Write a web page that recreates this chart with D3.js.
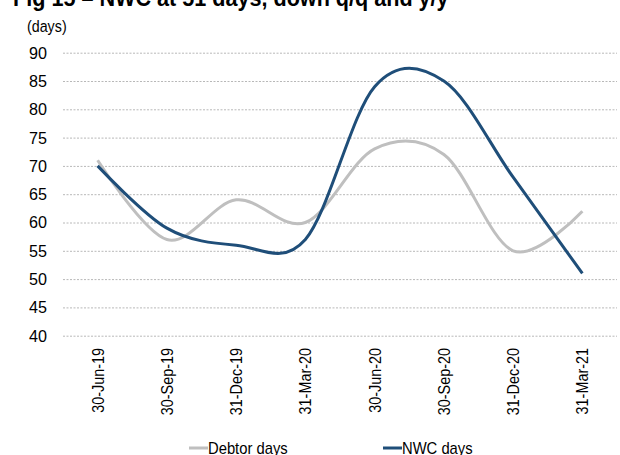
<!DOCTYPE html>
<html>
<head>
<meta charset="utf-8">
<script src="https://cdn.jsdelivr.net/npm/d3@7"></script>
<style>
  body { margin: 0; background: #fff; }
  svg { display: block; }
  text { font-family: "Liberation Sans", Arial, sans-serif; fill: #000; }
</style>
</head>
<body>
<svg id="chart" width="620" height="455"></svg>
<script>
// Quarter-end dates and the two working-capital series (in days)
const categories = ["30-Jun-19", "30-Sep-19", "31-Dec-19", "31-Mar-20", "30-Jun-20", "30-Sep-20", "31-Dec-20", "31-Mar-21"];
const debtorDays = [71, 57, 64, 60, 73, 72, 55, 62];
const nwcDays    = [70, 59, 56, 57, 84, 85, 68, 51];
const yTicks = [40, 45, 50, 55, 60, 65, 70, 75, 80, 85, 90];
const seriesNames = ["Debtor days", "NWC days"];
const seriesColors = ["#bfbfbf", "#1f4e79"];

const svg = d3.select("#chart");
const plotLeft = 63, plotRight = 617, plotTop = 52.7, plotBottom = 335.7;

const x = d3.scalePoint().domain(categories).range([plotLeft, plotRight]).padding(0.5);
const y = d3.scaleLinear().domain([40, 90]).range([plotBottom, plotTop]);

// Narrow-looking text: a regular face squeezed horizontally
function narrowText(parent, px, py, str, size, squeeze, weight) {
  return parent.append("text")
    .attr("transform", `translate(${px},${py}) scale(${squeeze},1)`)
    .attr("font-size", size)
    .attr("font-weight", weight || "normal")
    .text(str);
}

// Title (partly above the visible area) and unit label
narrowText(svg, 13, 6, "Fig 15 – NWC at 51 days, down q/q and y/y", 24, 0.9, "bold");
narrowText(svg, 27, 32, "(days)", 17, 0.84);

// Horizontal dotted gridlines with value labels
const yAxis = svg.append("g")
  .attr("transform", `translate(${plotLeft},0)`)
  .call(d3.axisLeft(y).tickValues(yTicks).tickSize(-(plotRight - plotLeft)).tickPadding(16).tickFormat(d3.format("d")));
yAxis.select(".domain").remove();
yAxis.selectAll(".tick line")
  .attr("stroke", "#b8b8b8").attr("stroke-width", 1).attr("stroke-dasharray", "2,1.5");
yAxis.selectAll(".tick text")
  .attr("font-size", 17).attr("fill", "#000")
  .attr("x", -16 / 0.95)
  .attr("transform", "scale(0.95,1)");

// Rotated category labels
const xAxis = svg.append("g")
  .attr("transform", "translate(0,348)")
  .call(d3.axisBottom(x).tickSize(0).tickPadding(0));
xAxis.select(".domain").remove();
xAxis.selectAll(".tick text")
  .attr("font-size", 16).attr("fill", "#000")
  .attr("transform", "rotate(-90) scale(0.9,1)")
  .attr("x", 0).attr("y", 0).attr("dy", "0.35em")
  .attr("text-anchor", "end");

// Smoothed series lines
const line = d3.line()
  .x((d, i) => x(categories[i]))
  .y(d => y(d))
  .curve(d3.curveCatmullRom.alpha(0));

const series = [debtorDays, nwcDays];
svg.selectAll("path.series")
  .data(series)
  .join("path")
  .attr("class", "series")
  .attr("fill", "none")
  .attr("stroke", (d, i) => seriesColors[i])
  .attr("stroke-width", 3)
  .attr("stroke-linejoin", "round")
  .attr("d", line);

// Legend
const legendX = [189, 383];
const legend = svg.selectAll("g.legend")
  .data(seriesNames)
  .join("g")
  .attr("class", "legend")
  .attr("transform", (d, i) => `translate(${legendX[i]},448)`);
legend.append("line")
  .attr("x1", 0).attr("x2", 19).attr("y1", 0).attr("y2", 0)
  .attr("stroke", (d, i) => seriesColors[i]).attr("stroke-width", 3);
legend.each(function (d) {
  narrowText(d3.select(this), 19, 6, d, 17, 0.87);
});
</script>
</body>
</html>
